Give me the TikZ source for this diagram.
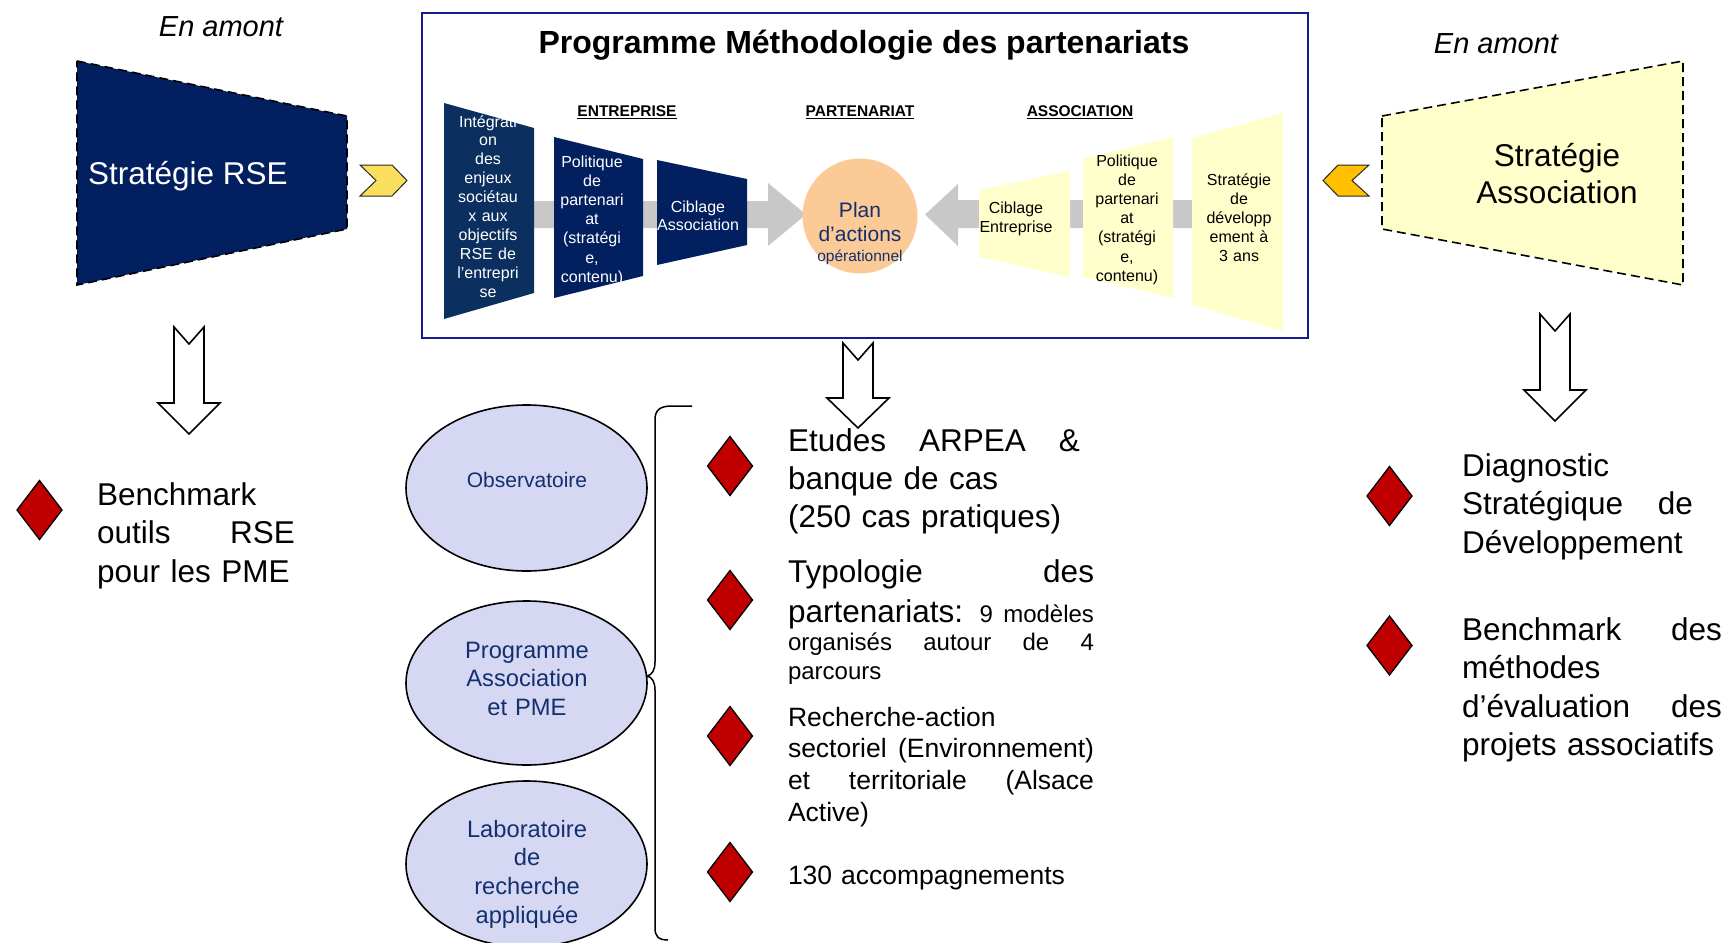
\documentclass[tikz,border=0pt]{standalone}
\usepackage{fontspec}
\setmainfont{Liberation Sans}
\usetikzlibrary{shapes.geometric}
\newcommand\fsz[2]{\fontsize{#1}{#2}\selectfont}
\newcommand\J[2][\linewidth]{\makebox[#1][s]{\spaceskip=0pt\relax\xspaceskip=0pt\relax #2}}
\definecolor{navy}{HTML}{022060}
\definecolor{navyA}{HTML}{0B2F5F}
\definecolor{pale}{HTML}{FFFFCC}
\definecolor{peach}{HTML}{FBCA96}
\definecolor{arrgray}{HTML}{C8C8C8}
\definecolor{framec}{HTML}{1A1A8C}
\definecolor{lav}{HTML}{D6D8F3}
\definecolor{ink}{HTML}{12306E}
\definecolor{dred}{HTML}{C00000}
\definecolor{chevY}{HTML}{FADF5E}
\definecolor{chevO}{HTML}{FFC000}
\begin{document}
\begin{tikzpicture}[x=1pt,y=-1pt,
  txt/.style={inner sep=0pt, outer sep=0pt},
  bigtrap/.style={draw=black, line width=1.6pt, dash pattern=on 9pt off 5pt},
  chev/.style={draw=black!85, line width=1pt, line join=miter},
  downarr/.style={draw=black, fill=white, line width=1.6pt, line join=miter},
  dia/.style={draw=black, fill=dred, line width=1.3pt, line join=miter},
  ell/.style={ellipse, draw=black, fill=lav, line width=1.6pt, inner sep=0pt, minimum width=241pt},
  trtxt/.style={txt, anchor=base, align=center, text width=100pt},
  head/.style={txt, anchor=base, font=\fsz{15.5}{18}\bfseries},
  body/.style={txt, anchor=base west, align=left}
]
\useasboundingbox (0,0) rectangle (1726,942);
\clip (0,0) rectangle (1726,942);

% ---------- left upstream ----------
\node[txt, anchor=base, font=\fsz{29}{34}\itshape] (amontL) at (221,37) {En amont};
\draw[bigtrap, fill=navy] (77,61) -- (347,116) -- (347,229) -- (77,285) -- cycle;
\node[txt, anchor=base west, text=white, font=\fsz{31.5}{37}] (rse) at (88,184) {Stratégie RSE};
\draw[chev, fill=chevY] (360,165) -- (392,165) -- (407,180.5) -- (392,196) -- (360,196) -- (376,180.5) -- cycle;

% ---------- right upstream ----------
\node[txt, anchor=base, font=\fsz{29}{34}\itshape] (amontR) at (1496,53) {En amont};
\draw[bigtrap, fill=pale] (1382,116) -- (1683,61) -- (1683,285) -- (1382,229) -- cycle;
\node[txt, anchor=base, align=center, text width=260pt, font=\fsz{31.5}{37}] (strassoc) at (1557,166) {Stratégie\\Association};
\draw[chev, fill=chevO] (1323,180.5) -- (1338,165) -- (1369,165) -- (1352,180.5) -- (1369,196) -- (1338,196) -- cycle;

% ---------- central frame ----------
\draw[framec, line width=2pt] (422,13) rectangle (1308,338);
\node[txt, anchor=base, font=\fsz{32}{38}\bfseries] (title) at (864,53) {Programme Méthodologie des partenariats};

\node[head] (hE) at (627,116) {ENTREPRISE};
\node[head] (hP) at (860,116) {PARTENARIAT};
\node[head] (hA) at (1080,116) {ASSOCIATION};
\foreach \h in {hE,hP,hA}
  \draw[line width=1.1pt] ([yshift=-2.2pt]\h.base west) -- ([yshift=-2.2pt]\h.base east);

% gray flow arrows
\fill[arrgray] (500,201) -- (768,201) -- (768,183) -- (806,214.5) -- (768,246) -- (768,228) -- (500,228) -- cycle;
\fill[arrgray] (1230,200) -- (958,200) -- (958,184) -- (925,214.5) -- (958,246) -- (958,228) -- (1230,228) -- cycle;

% company side
\fill[navyA] (444,103) -- (534,128) -- (534,293) -- (444,319) -- cycle;
\fill[navy] (554,137) -- (643,159) -- (643,276) -- (554,298) -- cycle;
\fill[navy] (657,160) -- (747,179) -- (747,245) -- (657,265) -- cycle;
% association side
\fill[pale] (979,190) -- (1070,171) -- (1070,277) -- (979,257) -- cycle;
\fill[pale] (1083,159) -- (1173,137) -- (1173,298) -- (1083,277) -- cycle;
\fill[pale] (1192,138) -- (1283,113) -- (1283,331) -- (1192,305) -- cycle;

\node[trtxt, text=white, font=\fsz{16}{18.9}] (t1) at (488,127)
  {Intégrati\\on\\des\\enjeux\\sociétau\\x aux\\objectifs\\RSE de\\l’entrepri\\se};
\node[trtxt, text=white, font=\fsz{16}{19.2}] (t2) at (592,167)
  {Politique\\de\\partenari\\at\\(stratégi\\e,\\contenu)};
\node[trtxt, text=white, font=\fsz{16}{18.5}] (t3) at (698,212) {Ciblage\\Association};
\node[trtxt, font=\fsz{16}{19}] (y1) at (1016,213) {Ciblage\\Entreprise};
\node[trtxt, font=\fsz{16}{19.2}] (y2) at (1127,166)
  {Politique\\de\\partenari\\at\\(stratégi\\e,\\contenu)};
\node[trtxt, font=\fsz{16}{19}] (y3) at (1239,185)
  {Stratégie\\de\\développ\\ement à\\3 ans};

% plan d'actions
\node[circle, fill=peach, minimum size=115pt, inner sep=0pt] (plan) at (860,216) {};
\node[trtxt, text=ink, font=\fsz{21}{24}] (plantxt) at (860,217) {Plan\\d’actions};
\node[txt, anchor=base, text=ink, font=\fsz{15.5}{18}] (optxt) at (860,261) {opérationnel};

% ---------- down arrows ----------
\draw[downarr] (174,327) -- (189,344) -- (204,327) -- (204,403) -- (220,403) -- (189,434) -- (158,403) -- (174,403) -- cycle;
\draw[downarr] (843,343) -- (858,360) -- (873,343) -- (873,398) -- (889,398) -- (858,428) -- (827,398) -- (843,398) -- cycle;
\draw[downarr] (1540,314) -- (1555,331) -- (1570,314) -- (1570,390) -- (1586,390) -- (1555,421) -- (1524,390) -- (1540,390) -- cycle;

% ---------- diamonds ----------
\foreach \cx/\cy in {39.5/510, 730/466, 730/600, 730/736, 730/872, 1389.5/496, 1389.5/645.5}
  \draw[dia] (\cx,\cy-29.5) -- (\cx+22.5,\cy) -- (\cx,\cy+29.5) -- (\cx-22.5,\cy) -- cycle;

% ---------- left results ----------
\node[body, text width=198pt, font=\fsz{31.5}{38.5}] (bmL) at (97,505)
  {Benchmark\\\J{outils RSE}\\pour les PME};

% ---------- ellipses & bracket ----------
\node[ell, minimum height=166pt] (obs) at (526.5,488) {};
\node[ell, minimum height=164pt] (prog) at (526.5,683) {};
\node[ell, minimum height=166pt] (labo) at (526.5,864) {};
\node[txt, anchor=base, text=ink, font=\fsz{21}{25}] (obstxt) at (527,487) {Observatoire};
\node[trtxt, text width=200pt, text=ink, font=\fsz{23.7}{28.7}] (progtxt) at (527,658) {Programme\\Association\\et PME};
\node[trtxt, text width=200pt, text=ink, font=\fsz{23.7}{28.7}] (labotxt) at (527,837) {Laboratoire\\de\\recherche\\appliquée};

\draw[line width=1.5pt] (692,406) -- (672,406) .. controls (660,406) and (655,410) .. (655,420)
  -- (655,662) .. controls (655,670) and (652,675) .. (647,676)
  .. controls (652,677) and (655,682) .. (655,690) -- (655,928)
  .. controls (655,936) and (658,940) .. (668,940);

% ---------- middle results ----------
\node[body, text width=306pt, font=\fsz{31.5}{38}] (etudes) at (788,451)
  {\J[292pt]{Etudes ARPEA \&}\\banque de cas\\(250 cas pratiques)};
\node[body, text width=306pt, font=\fsz{31.5}{38}] (typoA) at (788,582) {\J{Typologie des}};
\node[body, text width=306pt, font=\fsz{24}{28.5}] (typoB) at (788,622)
  {\J{{\fsz{31.5}{28.5}partenariats:} 9 modèles}\\\J{organisés autour de 4}\\parcours};
\node[body, text width=306pt, font=\fsz{26.5}{31.7}] (rech) at (788,726)
  {Recherche-action\\\J{sectoriel (Environnement)}\\\J{et territoriale (Alsace}\\Active)};
\node[body, text width=306pt, font=\fsz{26.5}{31.7}] (acc) at (788,884) {130 accompagnements};

% ---------- right results ----------
\node[body, text width=231pt, font=\fsz{31.5}{38.5}] (diag) at (1462,476)
  {Diagnostic\\\J{Stratégique de}\\Développement};
\node[body, text width=260pt, font=\fsz{31.5}{38.5}] (bmR) at (1462,640)
  {\J{Benchmark des}\\méthodes\\\J{d’évaluation des}\\projets associatifs};
\end{tikzpicture}
\end{document}
